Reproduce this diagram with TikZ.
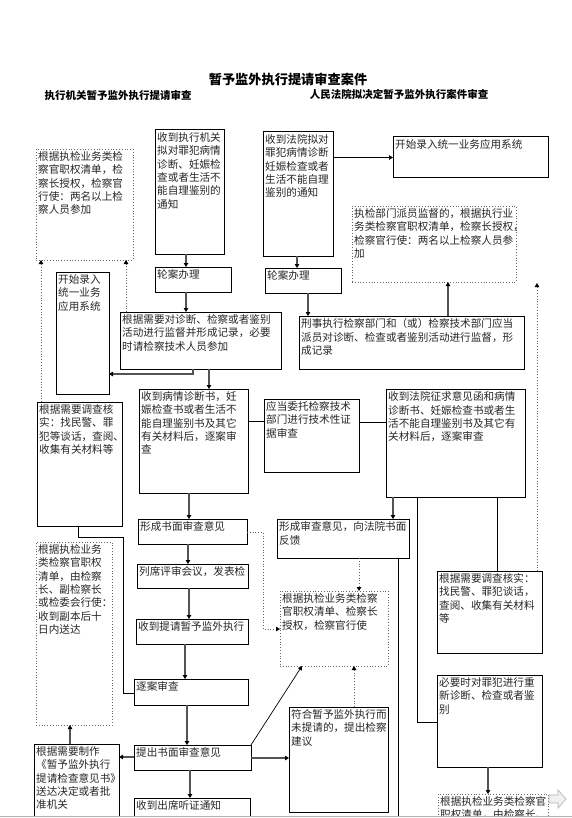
\documentclass[tikz,border=0pt]{standalone}
\usepackage{fontspec}
\setmainfont{Noto Sans CJK SC}
\usetikzlibrary{arrows.meta}
\tikzset{
 box/.style={draw=black, line width=1pt, inner sep=0pt, outer sep=0pt},
 dbox/.style={draw=gray!80!black, dotted, line width=0.8pt, inner sep=0pt, outer sep=0pt},
 txt/.style={anchor=north west, inner sep=0pt, xshift=2pt, yshift=-2.5pt, align=left,
   font=\fontsize{10.6}{13.3}\selectfont, text=black!85},
 garr/.style={draw=gray!65!black, line width=1.6pt, -{Triangle[length=4pt,width=4.5pt,color=black]}},
 darr/.style={draw=gray!80!black, dotted, line width=0.8pt, -{Triangle[length=4pt,width=4.5pt,color=black]}},
 barr/.style={draw=black, line width=0.7pt, -{Triangle[length=4pt,width=4.5pt]}},
 bline/.style={draw=black, line width=0.8pt},
 ttl/.style={font=\fontsize{13.2}{16}\selectfont\bfseries},
 sttl/.style={font=\fontsize{10.5}{13}\selectfont\bfseries},
}
\newcommand\mybox[7]{%
 \node[#1, anchor=north west, minimum width={#5pt-#3pt}, minimum height={#6pt-#4pt}] (#2) at (#3,#4) {};
 \node[txt] (#2t) at (#2.north west) {#7};}
\begin{document}
\begin{tikzpicture}[x=1pt,y=-1pt]
\useasboundingbox[fill=white] (0,0) rectangle (572,818);
\node[ttl] (title) at (288,79.5) {暂予监外执行提请审查案件};
\node[sttl] (subl) at (118,95.5) {执行机关暂予监外执行提请审查};
\node[sttl] (subr) at (399,94.5) {人民法院拟决定暂予监外执行案件审查};
\begin{scope}
\clip (0,0) rectangle (572,816);
\mybox{dbox}{A}{36}{149}{133}{260}{根据执检业务类检\\察官职权清单，检\\察长授权，检察官\\行使：两名以上检\\察人员参加}
\mybox{box}{B}{155}{130}{224}{254}{收到执行机关\\拟对罪犯病情\\诊断、妊娠检\\查或者生活不\\能自理鉴别的\\通知}
\mybox{box}{C}{263}{132}{333}{256}{收到法院拟对\\罪犯病情诊断\\妊娠检查或者\\生活不能自理\\鉴别的通知}
\mybox{box}{D}{393}{137}{548}{178}{开始录入统一业务应用系统}
\mybox{dbox}{E}{352}{206}{516}{282}{执检部门派员监督的，根据执行业\\务类检察官职权清单，检察长授权，\\检察官行使：两名以上检察人员参\\加}
\mybox{box}{F}{155}{267}{231}{292}{轮案办理}
\mybox{box}{G}{265}{268}{341}{293}{轮案办理}
\mybox{box}{H}{120}{312}{281}{369}{根据需要对诊断、检察或者鉴别\\活动进行监督并形成记录，必要\\时请检察技术人员参加}
\mybox{box}{I}{56}{272}{109}{394}{开始录入\\统一业务\\应用系统}
\mybox{box}{J}{299}{316}{524}{369}{刑事执行检察部门和（或）检察技术部门应当\\派员对诊断、检查或者鉴别活动进行监督，形\\成记录}
\mybox{box}{K}{37}{402}{122}{526}{根据需要调查核\\实：找民警、罪\\犯等谈话，查阅、\\收集有关材料等}
\mybox{box}{L}{139}{389}{248}{493}{收到病情诊断书，妊\\娠检查书或者生活不\\能自理鉴别书及其它\\有关材料后，逐案审\\查}
\mybox{box}{M}{264}{399}{359}{472}{应当委托检察技术\\部门进行技术性证\\据审查}
\mybox{box}{N}{386}{389}{525}{497}{收到法院征求意见函和病情\\诊断书、妊娠检查书或者生\\活不能自理鉴别书及其它有\\关材料后，逐案审查}
\mybox{box}{O}{138}{519}{247}{544}{形成书面审查意见}
\mybox{box}{P}{137}{564}{248}{588}{列席评审会议，发表检}
\mybox{box}{Q}{136}{619}{248}{644}{收到提请暂予监外执行}
\mybox{box}{R}{134}{679}{248}{705}{逐案审查}
\mybox{dbox}{S}{36}{542}{112}{725}{根据执检业务\\类检察官职权\\清单，由检察\\长、副检察长\\或检委会行使：\\收到副本后十\\日内送达}
\mybox{box}{T}{134}{745}{251}{770}{提出书面审查意见}
\mybox{box}{U}{34}{744}{119}{840}{根据需要制作\\《暂予监外执行\\提请检查意见书》\\送达决定或者批\\准机关}
\mybox{box}{V}{134}{798}{250}{840}{收到出席听证通知}
\mybox{box}{W}{289}{707}{388}{812}{符合暂予监外执行而\\未提请的，提出检察\\建议}
\mybox{dbox}{X}{280}{591}{388}{666}{根据执检业务类检察\\官职权清单、检察长\\授权，检察官行使}
\mybox{box}{Y}{277}{519}{409}{558}{形成审查意见，向法院书面\\反馈}
\mybox{box}{Z}{437}{571}{542}{653}{根据需要调查核实：\\找民警、罪犯谈话，\\查阅、收集有关材料\\等}
\mybox{box}{AA}{437}{675}{542}{767}{必要时对罪犯进行重\\新诊断、检查或者鉴\\别}
\mybox{dbox}{AB}{438}{794}{548}{840}{根据执检业务类检察官\\职权清单，由检察长、}
\coordinate (zend) at (537,283);
\coordinate (yend) at (398,830);
% connectors
\draw[barr] (C.east |- D.west) -- (D.west);
\draw[garr] (186,0 |- B.south) -- (186,0 |- F.north);
\draw[garr] (297,0 |- C.south) -- (297,0 |- G.north);
\draw[garr] (186,0 |- F.south) -- (186,0 |- H.north);
\draw[garr] (308,0 |- G.south) -- (308,0 |- J.north);
\draw[garr] (448,0 |- J.north) -- (448,0 |- E.south);
\draw[garr] (193,0 |- H.south) |- (I.east |- 0,374);
\draw[darr] (41,0 |- K.north) -- (41,0 |- A.south);
\draw[darr] (126,0 |- H.north) -- (126,0 |- A.south);
\draw[darr] (537,0 |- Z.north) -- (zend);
\draw[garr] (209,0 |- H.south) -- (209,0 |- L.north);
\draw[bline] (L.east |- 0,421) -- (M.west |- 0,421);
\draw[bline] (M.east |- 0,422) -- (N.west |- 0,422);
\draw[garr] (189,0 |- L.south) -- (189,0 |- O.north);
\draw[garr] (188,0 |- O.south) -- (188,0 |- P.north);
\draw[garr] (189,0 |- P.south) -- (189,0 |- Q.north);
\draw[garr] (185,0 |- Q.south) -- (185,0 |- R.north);
\draw[garr] (187,0 |- R.south) -- (187,0 |- T.north);
\draw[garr] (190,0 |- T.south) -- (190,0 |- V.north);
\draw[bline] (78,0 |- K.south) |- (123,537) |- (R.west |- 0,693);
\draw[darr] (O.east |- 0,532) -| (263,629) -- (X.west |- 0,629);
\draw[garr] (393,0 |- N.south) -- (393,0 |- Y.north);
\draw[darr] (359,0 |- Y.south) -- (359,0 |- X.north);
\draw[darr] (354,0 |- W.north) -- (354,0 |- X.south);
\draw[barr] (T.north east) -- (302,0 |- X.south);
\draw[garr] (T.west |- 0,757) -- (U.east |- 0,757);
\draw[garr] (70,0 |- U.north) -- (70,0 |- S.south);
\draw[garr] (T.east |- 0,758) -- (W.west |- 0,758);
\draw[bline] (497,0 |- N.south) -- (497,0 |- Z.north);
\draw[bline] (417,0 |- N.south) |- (AA.west |- 0,722);
\draw[bline] (398,0 |- Y.south) -- (yend);
\draw[garr] (488,0 |- AA.south) -- (488,0 |- AB.north);
\draw[draw=gray!60, fill=gray!12, line width=0.6pt] (549,795) -- (558,795) -- (558,790) -- (566,799) -- (558,808) -- (558,803) -- (549,803) -- cycle;
\end{scope}
\draw[gray!60, line width=0.8pt] (0,816) -- (572,816);
\end{tikzpicture}
\end{document}
